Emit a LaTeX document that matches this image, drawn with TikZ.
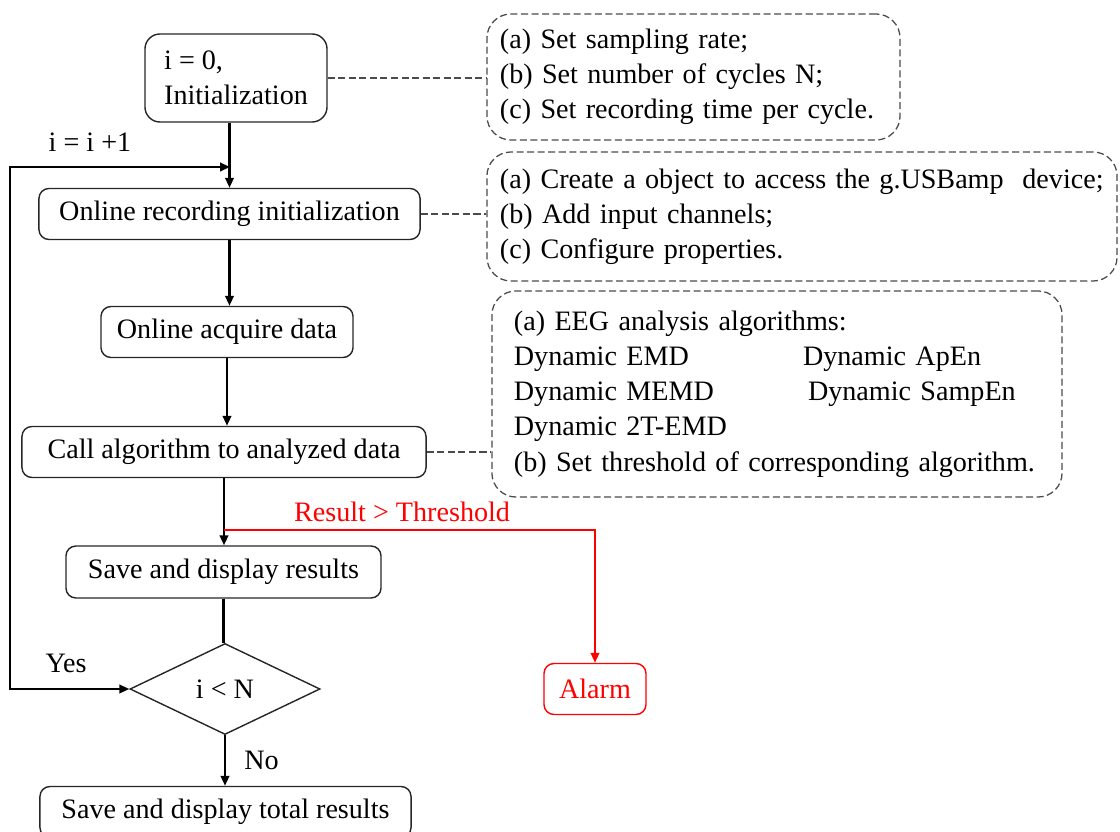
\documentclass[tikz,border=0pt]{standalone}
\usepackage{fontspec}
\setmainfont{Liberation Serif}
\usetikzlibrary{shapes.geometric,arrows.meta,positioning}
\definecolor{notegray}{RGB}{75,75,75}
\newcommand{\flowfont}{\fontsize{20}{25}\selectfont}

\begin{document}
\begin{tikzpicture}[x=0.025cm,y=-0.025cm,
                    box/.style={draw=black!85,line width=1pt,rounded corners=0.25cm,minimum height=1.275cm,inner sep=0pt,font=\flowfont},
                    note/.style={draw=notegray,dash pattern=on 5pt off 2.5pt,line width=0.9pt,rounded corners=0.6cm,align=left,inner ysep=0pt,font=\flowfont},
                    flow/.style={line width=1.5pt,-{Triangle[length=7pt,width=6pt]}},
                    link/.style={draw=notegray,dash pattern=on 5pt off 2.5pt,line width=0.9pt},
                    lab/.style={font=\flowfont,inner sep=1pt}]
                    \useasboundingbox (0,0) rectangle (1120,832);
                    \node[box,rounded corners=0.375cm,minimum width=4.55cm,minimum height=2.2cm,align=left] (init) at (236,78) {i = 0,\\Initialization};
                    \node[box,minimum width=9.525cm] (rec) at (229.5,214) {Online recording initialization};
                    \node[box,minimum width=6.3cm] (acq) at (227,332) {Online acquire data};
                    \node[box,minimum width=10.1cm] (call) at (224,452) {Call algorithm to analyzed data};
                    \node[box,minimum width=7.875cm,minimum height=1.3cm] (save) at (223.5,572) {Save and display results};
                    \node[draw=black!85,line width=1pt,diamond,minimum width=4.75cm,minimum height=2.275cm,inner sep=0pt,font=\flowfont] (dia) at (225,689) {i < N};
                    \node[box,minimum width=9.275cm] (total) at (225.5,812) {Save and display total results};
                    \node[box,draw=red,text=red,minimum width=2.55cm] (alarm) at (595,689) {Alarm};
                    \node[note,inner xsep=0.325cm,text width=9.675cm,minimum height=3.15cm] (n1) at (693.5,77)
                        {(a) Set sampling rate;\\(b) Set number of cycles N;\\(c) Set recording time per cycle.};
                    \node[note,inner xsep=0.325cm,text width=15.1cm,minimum height=3.225cm] (n2) at (802,216.5)
                        {(a) Create a object to access the g.USBamp\ \ device;\\(b) Add input channels;\\(c) Configure properties.};
                    \node[note,inner xsep=0.55cm,text width=13.15cm,minimum height=5.15cm] (n3) at (777,394)
                        {(a) EEG analysis\ algorithms:\\
                         \makebox[7.225cm][l]{Dynamic EMD}Dynamic ApEn\\
                         \makebox[7.35cm][l]{Dynamic MEMD}Dynamic SampEn\\
                         Dynamic 2T-EMD\\
                         (b) Set threshold of corresponding algorithm.};
                    \draw[link] (init.east) -- (n1.west |- init.east);
                    \draw[link] (rec.east) -- (n2.west |- rec.east);
                    \draw[link] (call.east) -- (n3.west |- call.east);
                    \draw[flow] (init.south -| rec.north) -- (rec.north);
                    \draw[flow] (rec.south) -- (rec.south |- acq.north);
                    \draw[flow] (acq.south) -- (acq.south |- call.north);
                    \draw[flow] (call.south) -- (call.south |- save.north);
                    \draw[line width=1.5pt] (save.south) -- (save.south |- dia.north);
                    \draw[flow] (dia.south) -- (dia.south |- total.north) node[lab,midway,right=12pt] (no) {No};
                    \coordinate (lft) at (10,689);
                    \coordinate (ret) at (230,167);
                    \draw[line width=1.5pt,{Triangle[length=7pt,width=6pt]}-{Triangle[length=7pt,width=6pt]}] (dia.west) -- (lft) |- (ret);
                    \node[lab] (inc) at (90,142) {i = i +1};
                    \node[lab] (yes) at (66,663) {Yes};
                    \coordinate (split) at (224,530);
                    \draw[flow,red] (split) -| (alarm.north) node[lab,pos=0.24,above=4pt] (thr) {Result > Threshold};
                \end{tikzpicture}
\end{document}
